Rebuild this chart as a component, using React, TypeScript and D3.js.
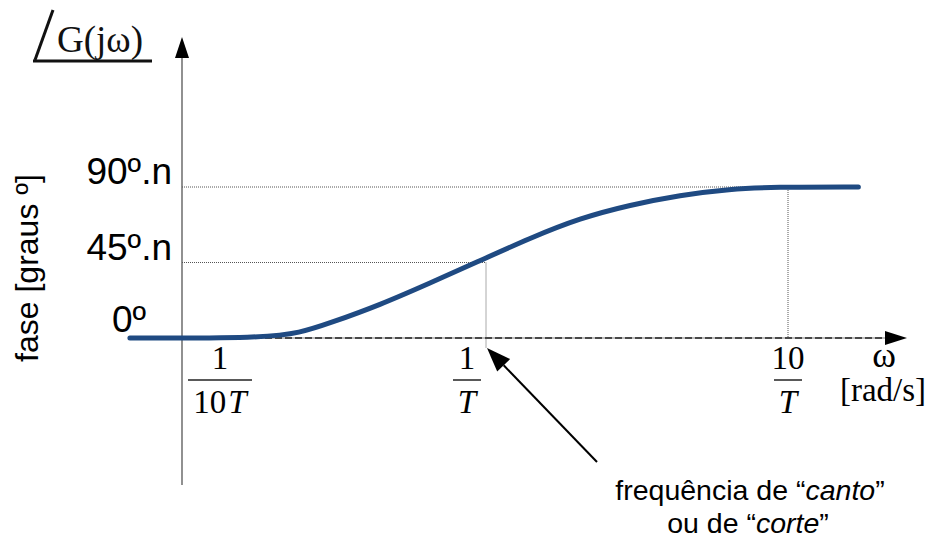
import React from "react";
import * as d3 from "d3";

// Phase response of n first-order zeros: normalised frequency ωT vs phase (degrees per n)
const omegaT = [0.0333, 0.119, 0.169, 0.225, 0.363, 0.586, 0.909, 1.4, 2.05, 3.0, 4.39, 6.43, 8.92, 17.1];
const phaseDeg = [0, 0, 3.0, 8.9, 19.7, 32.8, 45, 59.6, 71.5, 79.3, 85.2, 88.8, 90, 90];

// Axis ticks
const xTickValues = [0.1, 1, 10];
const xTickNumerators = ["1", "1", "10"];
const xTickDenominators = ["10", "", ""];
const yTickValues = [0, 45, 90];
const yTickLabels = ["0º", "45º.n", "90º.n"];

const W = 930;
const H = 539;
const SANS = "'Liberation Sans', Arial, Helvetica, sans-serif";
const SERIF = "'Liberation Serif', 'Times New Roman', Times, serif";
const BLUE = "#1f4a82";

// layout
const AXIS_X = 182;
const xLabelNudge = [-25, -19, 0];
const fracBarHalf = [32, 14, 14];

export default function App() {
  const x = d3.scaleLog().domain([0.1, 1, 10]).range([245, 486, 788]);
  const y = d3.scaleLinear().domain([0, 90]).range([338, 187]);

  const pts = omegaT.map((w, i) => [w, phaseDeg[i]] as [number, number]);
  const line = d3
    .line<[number, number]>()
    .x((d) => x(d[0]))
    .y((d) => y(d[1]))
    .curve(d3.curveBasis);

  const y0 = y(0);
  const axisEnd = 907;

  // annotation arrow
  const tail = [597, 462];
  const tip = [x(1) + 1, y0 + 10];
  const dx = tip[0] - tail[0];
  const dy = tip[1] - tail[1];
  const len = Math.hypot(dx, dy);
  const ux = dx / len;
  const uy = dy / len;
  const headL = 24;
  const headW = 9;
  const bx = tip[0] - ux * headL;
  const by = tip[1] - uy * headL;
  const head = [
    [tip[0], tip[1]],
    [bx - uy * headW, by + ux * headW],
    [bx + uy * headW, by - ux * headW],
  ];

  const dotted = { stroke: "#555", strokeWidth: 1, strokeDasharray: "1,1" };

  return (
    <svg
      width={W}
      height={H}
      style={{ position: "absolute", left: 0, top: 0, background: "#fff" }}
    >
      {/* angle symbol + G(jω) */}
      <line x1={53} y1={10} x2={35} y2={60} stroke="#111" strokeWidth={3} />
      <line x1={33} y1={61} x2={152} y2={61} stroke="#111" strokeWidth={3} />
      <text x={57} y={52} fontFamily={SERIF} fontSize={37} fill="#111">
        G(jω)
      </text>

      {/* guide lines */}
      <line x1={AXIS_X} y1={y(90)} x2={x(8.92)} y2={y(90)} {...dotted} />
      <line x1={AXIS_X} y1={y(45)} x2={x(1)} y2={y(45)} {...dotted} />
      <line x1={x(1)} y1={y(45)} x2={x(1)} y2={y0 + 10} {...dotted} />
      <line x1={x(10)} y1={y(90) + 3} x2={x(10)} y2={y0} {...dotted} />

      {/* x axis */}
      <line x1={x(0.1)} y1={y0} x2={axisEnd - 20} y2={y0} stroke="#aaa" strokeWidth={1.6} />
      <line
        x1={x(0.1)}
        y1={y0}
        x2={axisEnd - 20}
        y2={y0}
        stroke="#222"
        strokeWidth={1.6}
        strokeDasharray="7,3"
      />
      <polygon
        points={`${axisEnd},${y0} ${axisEnd - 22},${y0 - 7} ${axisEnd - 22},${y0 + 7}`}
        fill="#000"
      />

      {/* y axis */}
      <line x1={AXIS_X} y1={56} x2={AXIS_X} y2={485} stroke="#555" strokeWidth={1.3} />
      <polygon points={`${AXIS_X},37 ${AXIS_X - 7},58 ${AXIS_X + 7},58`} fill="#000" />

      {/* phase curve */}
      <path
        d={line(pts) ?? ""}
        fill="none"
        stroke={BLUE}
        strokeWidth={5}
        strokeLinecap="round"
        strokeLinejoin="round"
      />

      {/* y tick labels */}
      {yTickValues.map((v, i) => (
        <text
          key={v}
          x={v === 0 ? 146 : 172}
          y={v === 0 ? y(v) - 6 : y(v) - 3}
          textAnchor="end"
          fontFamily={SANS}
          fontSize={37}
          fill="#000"
        >
          {yTickLabels[i]}
        </text>
      ))}

      {/* x tick labels as fractions */}
      {xTickValues.map((v, i) => {
        const cx = x(v) + xLabelNudge[i];
        return (
          <g key={v}>
            <text
              x={cx}
              y={369}
              textAnchor="middle"
              fontFamily={SERIF}
              fontSize={33}
              fill="#000"
            >
              {xTickNumerators[i]}
            </text>
            <line
              x1={cx - fracBarHalf[i]}
              x2={cx + fracBarHalf[i]}
              y1={380}
              y2={380}
              stroke="#222"
              strokeWidth={1.5}
            />
            <text
              x={cx}
              y={413}
              textAnchor="middle"
              fontFamily={SERIF}
              fontSize={33}
              fill="#000"
            >
              {xTickDenominators[i]}
              <tspan fontStyle="italic" dx={xTickDenominators[i] ? 2 : 0}>
                T
              </tspan>
            </text>
          </g>
        );
      })}

      {/* x axis title */}
      <text x={884} y={367} textAnchor="middle" fontFamily={SERIF} fontSize={36} fill="#000">
        ω
      </text>
      <text x={883} y={401} textAnchor="middle" fontFamily={SERIF} fontSize={33} fill="#000">
        [rad/s]
      </text>

      {/* y axis title */}
      <text
        transform={`translate(38, 268) rotate(-90)`}
        textAnchor="middle"
        fontFamily={SANS}
        fontSize={32}
        fill="#000"
      >
        fase [graus º]
      </text>

      {/* corner frequency annotation */}
      <line
        x1={tail[0]}
        y1={tail[1]}
        x2={bx}
        y2={by}
        stroke="#000"
        strokeWidth={2}
      />
      <polygon points={head.map((p) => p.join(",")).join(" ")} fill="#000" />
      <text x={750} y={500} textAnchor="middle" fontFamily={SANS} fontSize={28.5} fill="#000">
        frequência de “<tspan fontStyle="italic">canto</tspan>”
      </text>
      <text x={748} y={533} textAnchor="middle" fontFamily={SANS} fontSize={28.5} fill="#000">
        ou de “<tspan fontStyle="italic">corte</tspan>”
      </text>
    </svg>
  );
}
